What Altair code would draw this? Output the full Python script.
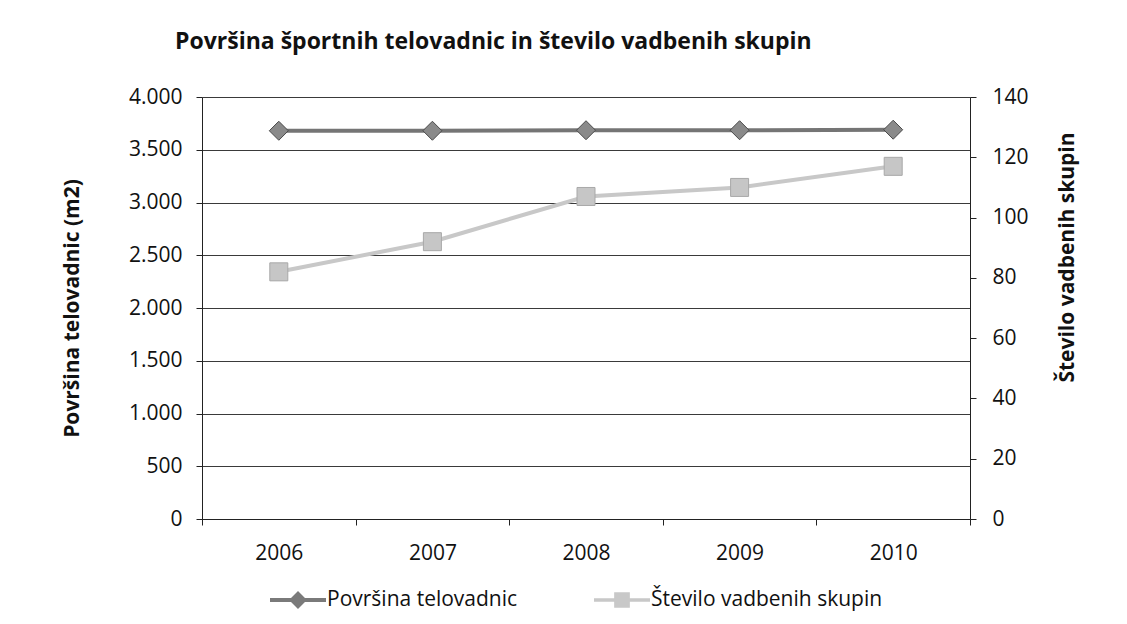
import altair as alt
import pandas as pd

years = ["2006", "2007", "2008", "2009", "2010"]
povrsina = [3680, 3680, 3685, 3685, 3690]
stevilo = [82, 92, 107, 110, 117]
series_names = ["Površina telovadnic", "Število vadbenih skupin"]
left_ticks = [0, 500, 1000, 1500, 2000, 2500, 3000, 3500, 4000]
right_ticks = [0, 20, 40, 60, 80, 100, 120, 140]

df = pd.DataFrame({"year": years, "povrsina": povrsina, "stevilo": stevilo})
legend_df = pd.DataFrame({"series": series_names})

FONT = "Open Sans"

x_enc = alt.X(
    "year:O",
    scale=alt.Scale(type="band", paddingInner=0, paddingOuter=0),
    axis=alt.Axis(
        title=None, tickBand="extent", grid=False, labelAngle=0,
        ticks=True, tickSize=6, labelPadding=17, labelFontSize=21,
        labelFont=FONT, labelColor="#111", domainColor="#222", tickColor="#222",
    ),
)

line_a = alt.Chart(df).mark_line(
    color="#757575", strokeWidth=4, opacity=1,
    point=alt.OverlayMarkDef(shape="diamond", size=361, filled=True,
                             fill="#8a8a8a", stroke="#4a4a4a", strokeWidth=1, opacity=1),
).encode(
    x=x_enc,
    y=alt.Y(
        "povrsina:Q",
        scale=alt.Scale(domain=[0, 4000], nice=False),
        axis=alt.Axis(
            title="Površina telovadnic (m2)", orient="left", values=left_ticks,
            labelExpr="replace(format(datum.value, ','), ',', '.')",
            grid=True, gridColor="#3a3a3a", gridWidth=1,
            tickSize=6, labelPadding=14, labelFontSize=21, labelFont=FONT,
            labelColor="#111", titleFont=FONT, titleFontSize=21, titleFontWeight="bold",
            titleColor="#111", titlePadding=46, domainColor="#222", tickColor="#222",
        ),
    ),
)

line_b = alt.Chart(df).mark_line(
    color="#c8c8c8", strokeWidth=4, opacity=1,
    point=alt.OverlayMarkDef(shape="square", size=324, filled=True,
                             fill="#c6c6c6", stroke="#a8a8a8", strokeWidth=1, opacity=1),
).encode(
    x=x_enc,
    y=alt.Y(
        "stevilo:Q",
        scale=alt.Scale(domain=[0, 140], nice=False),
        axis=alt.Axis(
            title="Število vadbenih skupin", orient="right", values=right_ticks,
            grid=False, tickSize=6, labelPadding=16, labelFontSize=21, labelFont=FONT,
            labelColor="#111", titleFont=FONT, titleFontSize=21, titleFontWeight="bold",
            titleColor="#111", titleAngle=270, titleBaseline="top", titlePadding=28,
            titleY=160, domainColor="#222", tickColor="#222",
        ),
    ),
)

path_a = "M-1,-0.07H1V0.07H-1Z M0,-0.32L0.32,0L0,0.32L-0.32,0Z"
path_b = "M-1,-0.06H1V0.06H-1Z M-0.28,-0.28H0.28V0.28H-0.28Z"

legend_layer = alt.Chart(legend_df).transform_filter("false").mark_point(
    filled=True, opacity=1
).encode(
    color=alt.Color(
        "series:N",
        scale=alt.Scale(domain=series_names, range=["#7a7a7a", "#c8c8c8"]),
        legend=alt.Legend(
            title=None, orient="none", direction="horizontal", columns=2,
            legendX=68, legendY=475, symbolSize=3136, labelFontSize=21,
            labelFont=FONT, labelColor="#111", labelOffset=1, columnPadding=76,
            padding=0, symbolStrokeWidth=0, labelLimit=500,
        ),
    ),
    shape=alt.Shape(
        "series:N",
        scale=alt.Scale(domain=series_names, range=[path_a, path_b]),
    ),
)

chart = alt.layer(line_a, line_b, legend_layer).resolve_scale(
    y="independent"
).properties(
    width=768,
    height=422,
    title=alt.TitleParams(
        "Površina športnih telovadnic in število vadbenih skupin",
        anchor="start", frame="group", dx=-27, offset=32,
        font=FONT, fontSize=23, fontWeight="bold", color="#111",
    ),
    autosize=alt.AutoSizeParams(type="none"),
    padding={"left": 194, "top": 89, "right": 149, "bottom": 97},
).configure_view(stroke=None).configure(background="white")

chart.save("out.html", embed_options={"renderer": "svg", "actions": False})
